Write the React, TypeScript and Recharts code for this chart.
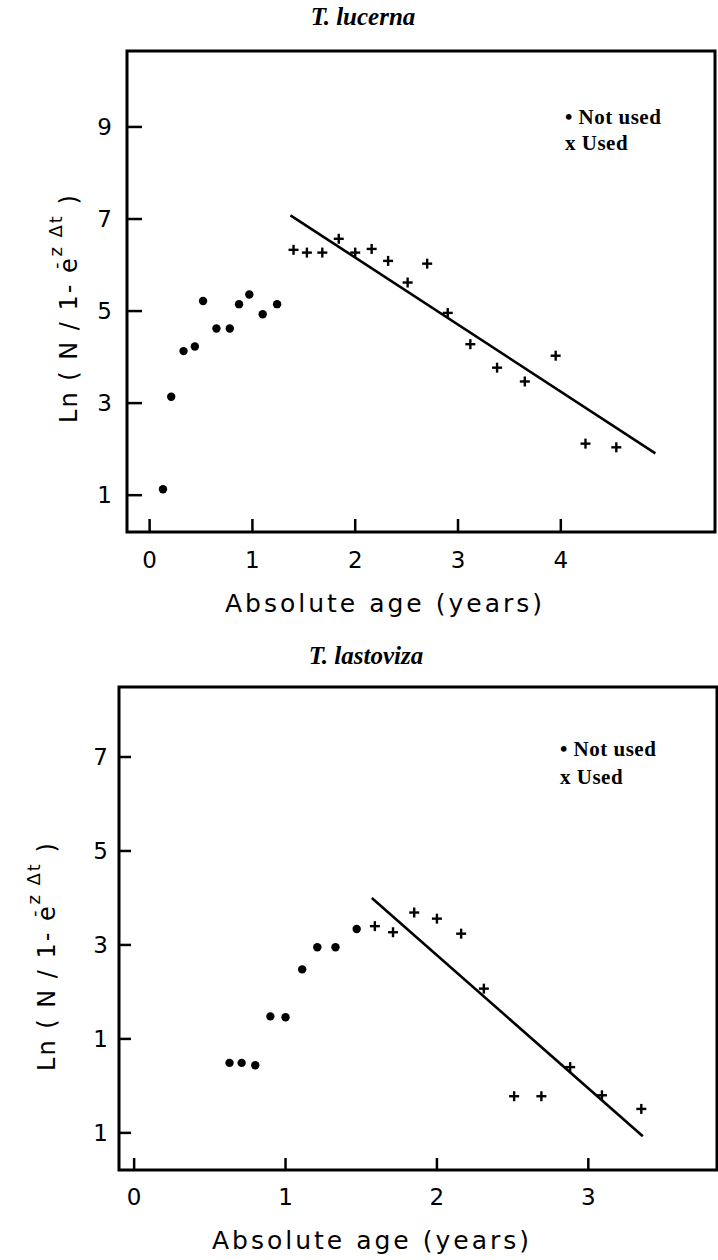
import React from 'react';
import { ScatterChart, Scatter, XAxis, YAxis, ReferenceArea, Legend, Label } from 'recharts';

// ---------- data ----------
const topTitle = 'T. lucerna';
const bottomTitle = 'T. lastoviza';
const xAxisTitle = 'Absolute age (years)';
const yTitleMain = 'Ln ( N / 1- e';
const yTitleBar = '-';
const yTitleSup = 'z Δt';
const yTitleEnd = ' )';
const legendSymbols = ['•', 'x'];
const legendLabels = ['Not used', 'Used'];

// T. lucerna
const topNotUsedX = [0.13, 0.21, 0.33, 0.44, 0.52, 0.65, 0.78, 0.87, 0.97, 1.1, 1.24];
const topNotUsedY = [1.13, 3.14, 4.13, 4.23, 5.22, 4.62, 4.62, 5.15, 5.36, 4.93, 5.15];
const topUsedX = [1.4, 1.53, 1.68, 1.84, 2.0, 2.16, 2.32, 2.51, 2.7, 2.9, 3.12, 3.38, 3.65, 3.95, 4.24, 4.54];
const topUsedY = [6.33, 6.27, 6.27, 6.57, 6.27, 6.35, 6.09, 5.62, 6.03, 4.96, 4.28, 3.77, 3.47, 4.03, 2.12, 2.04];
const topFitX = [1.37, 4.92];
const topFitY = [7.08, 1.91];
const topXTicks = [0, 1, 2, 3, 4];
const topYTicks = [1, 3, 5, 7, 9];
const topYTickLabels = ['1', '3', '5', '7', '9'];

// T. lastoviza
const botNotUsedX = [0.63, 0.71, 0.8, 0.9, 1.0, 1.11, 1.21, 1.33, 1.47];
const botNotUsedY = [0.49, 0.49, 0.44, 1.48, 1.46, 2.48, 2.95, 2.95, 3.34];
const botUsedX = [1.59, 1.71, 1.85, 2.0, 2.16, 2.31, 2.51, 2.69, 2.88, 3.09, 3.35];
const botUsedY = [3.4, 3.27, 3.69, 3.56, 3.24, 2.07, -0.22, -0.22, 0.4, -0.2, -0.49];
const botFitX = [1.57, 3.36];
const botFitY = [4.0, -1.07];
const botXTicks = [0, 1, 2, 3];
const botYTicks = [-1, 1, 3, 5, 7];
const botYTickLabels = ['1', '1', '3', '5', '7'];

// ---------- styling ----------
const SANS = "'DejaVu Sans', 'Noto Sans', sans-serif";
const SERIF = "'Liberation Serif', 'Times New Roman', serif";

type Pt = { x: number; y: number };
const toPoints = (xs: number[], ys: number[]): Pt[] => xs.map((x, i) => ({ x, y: ys[i] }));

const DotShape = (props: any) => <circle cx={props.cx} cy={props.cy} r={4.2} fill="#000" />;
const CrossShape = (props: any) => {
  const { cx, cy } = props;
  const a = 5;
  return (
    <g stroke="#000" strokeWidth={2.4}>
      <line x1={cx - a} y1={cy} x2={cx + a} y2={cy} />
      <line x1={cx} y1={cy - a} x2={cx} y2={cy + a} />
    </g>
  );
};
const NoShape = () => <g />;

type PanelCfg = {
  width: number;
  height: number;
  margin: { top: number; left: number; right: number; bottom: number };
  xDomain: [number, number];
  yDomain: [number, number];
  xTicks: number[];
  yTicks: number[];
  yTickLabels: string[];
  notUsed: Pt[];
  used: Pt[];
  fit: Pt[];
  xTickLen: number;
  yTickLen: number;
  xLabelDy: number;
  yLabelGap: number;
  xTitle: { cx: number; by: number };
  yTitle: { bx: number; cy: number };
  legend: { left: number; top: number; lh: number };
};

const Panel = ({ cfg }: { cfg: PanelCfg }) => {
  const XTick = (props: any) => {
    const { x, y, payload } = props;
    return (
      <g>
        <line x1={x} y1={y} x2={x} y2={y - cfg.xTickLen} stroke="#000" strokeWidth={2.5} />
        <text x={x} y={y + cfg.xLabelDy} textAnchor="middle" fontFamily={SANS} fontSize={23} fill="#000">
          {String(payload.value)}
        </text>
      </g>
    );
  };
  const YTick = (props: any) => {
    const { x, y, payload, index } = props;
    const idx = cfg.yTicks.indexOf(payload.value);
    const label = cfg.yTickLabels[idx >= 0 ? idx : index] ?? String(payload.value);
    return (
      <g>
        <line x1={x} y1={y} x2={x + cfg.yTickLen} y2={y} stroke="#000" strokeWidth={2.5} />
        <text x={x - cfg.yLabelGap} y={y + 8} textAnchor="end" fontFamily={SANS} fontSize={23} fill="#000">
          {label}
        </text>
      </g>
    );
  };
  const XTitle = () => (
    <text x={cfg.xTitle.cx} y={cfg.xTitle.by} textAnchor="middle" fontFamily={SANS} fontSize={25} letterSpacing={3} fill="#000">
      {xAxisTitle}
    </text>
  );
  const YTitle = () => (
    <text
      transform={`translate(${cfg.yTitle.bx},${cfg.yTitle.cy}) rotate(-90)`}
      textAnchor="middle"
      fontFamily={SANS}
      fontSize={24}
      letterSpacing={2}
      fill="#000"
    >
      <tspan>{yTitleMain}</tspan>
      <tspan dx={-13} dy={-15} fontSize={18}>{yTitleBar}</tspan>
      <tspan dx={4} fontSize={18}>{yTitleSup}</tspan>
      <tspan dy={15}>{yTitleEnd}</tspan>
    </text>
  );
  const LegendBox = () => (
    <div
      style={{
        fontFamily: SERIF,
        fontWeight: 'bold',
        fontSize: 21,
        lineHeight: `${cfg.legend.lh}px`,
        color: '#000',
        whiteSpace: 'nowrap',
        letterSpacing: 0.5,
      }}
    >
      {legendLabels.map((l, i) => (
        <div key={l}>
          {legendSymbols[i]} {l}
        </div>
      ))}
    </div>
  );

  return (
    <ScatterChart width={cfg.width} height={cfg.height} margin={cfg.margin}>
      <XAxis
        type="number"
        dataKey="x"
        domain={cfg.xDomain}
        ticks={cfg.xTicks}
        interval={0}
        allowDataOverflow
        height={1}
        axisLine={false}
        tickLine={false}
        tickSize={0}
        tickMargin={0}
        tick={XTick}
      >
        <Label content={XTitle} />
      </XAxis>
      <YAxis
        type="number"
        dataKey="y"
        domain={cfg.yDomain}
        ticks={cfg.yTicks}
        interval={0}
        allowDataOverflow
        width={1}
        axisLine={false}
        tickLine={false}
        tickSize={0}
        tickMargin={0}
        tick={YTick}
      >
        <Label content={YTitle} />
      </YAxis>
      <ReferenceArea
        x1={cfg.xDomain[0]}
        x2={cfg.xDomain[1]}
        y1={cfg.yDomain[0]}
        y2={cfg.yDomain[1]}
        fill="none"
        fillOpacity={0}
        stroke="#000"
        strokeWidth={3}
        ifOverflow="visible"
      />
      <Scatter
        name="Fit"
        data={cfg.fit}
        line={{ stroke: '#000', strokeWidth: 2.6 }}
        shape={NoShape}
        isAnimationActive={false}
        legendType="none"
      />
      <Scatter name="Not used" data={cfg.notUsed} shape={DotShape} isAnimationActive={false} />
      <Scatter name="Used" data={cfg.used} shape={CrossShape} isAnimationActive={false} />
      <Legend
        layout="vertical"
        align="center"
        verticalAlign="middle"
        wrapperStyle={{ left: cfg.legend.left, top: cfg.legend.top, width: 'auto', height: 'auto' }}
        content={LegendBox}
      />
    </ScatterChart>
  );
};

const topCfg: PanelCfg = {
  width: 718,
  height: 640,
  margin: { top: 51, left: 126, right: 3, bottom: 107 },
  xDomain: [-0.22, 5.5],
  yDomain: [0.2, 10.65],
  xTicks: topXTicks,
  yTicks: topYTicks,
  yTickLabels: topYTickLabels,
  notUsed: toPoints(topNotUsedX, topNotUsedY),
  used: toPoints(topUsedX, topUsedY),
  fit: toPoints(topFitX, topFitY),
  xTickLen: 13,
  yTickLen: 15,
  xLabelDy: 36,
  yLabelGap: 15,
  xTitle: { cx: 385, by: 612 },
  yTitle: { bx: 77, cy: 308 },
  legend: { left: 565, top: 104, lh: 26 },
};

const botCfg: PanelCfg = {
  width: 718,
  height: 620,
  margin: { top: 47, left: 118, right: 1, bottom: 89 },
  xDomain: [-0.1, 3.85],
  yDomain: [-1.79, 8.49],
  xTicks: botXTicks,
  yTicks: botYTicks,
  yTickLabels: botYTickLabels,
  notUsed: toPoints(botNotUsedX, botNotUsedY),
  used: toPoints(botUsedX, botUsedY),
  fit: toPoints(botFitX, botFitY),
  xTickLen: 12,
  yTickLen: 12,
  xLabelDy: 35,
  yLabelGap: 11,
  xTitle: { cx: 372, by: 609 },
  yTitle: { bx: 55, cy: 316 },
  legend: { left: 560, top: 95, lh: 28 },
};

const titleStyle = (cx: number, top: number): React.CSSProperties => ({
  position: 'absolute',
  left: cx - 200,
  top,
  width: 400,
  textAlign: 'center',
  fontFamily: SERIF,
  fontWeight: 'bold',
  fontStyle: 'italic',
  fontSize: 25,
  lineHeight: '25px',
  color: '#000',
});

export default function App() {
  return (
    <div style={{ position: 'absolute', left: 0, top: 0, width: 718, height: 1260, background: '#fff' }}>
      <div style={titleStyle(363, 4)}>{topTitle}</div>
      <div style={{ position: 'absolute', left: 0, top: 0 }}>
        <Panel cfg={topCfg} />
      </div>
      <div style={titleStyle(366, 643)}>{bottomTitle}</div>
      <div style={{ position: 'absolute', left: 0, top: 640 }}>
        <Panel cfg={botCfg} />
      </div>
    </div>
  );
}
